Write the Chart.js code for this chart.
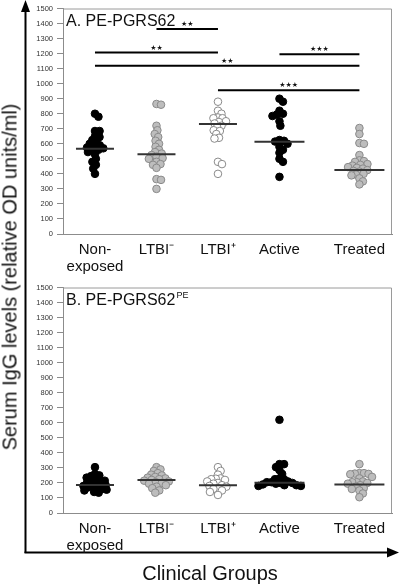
<!DOCTYPE html>
<html>
<head>
<meta charset="utf-8">
<script src="https://cdn.jsdelivr.net/npm/chart.js@4.4.0/dist/chart.umd.min.js"></script>
<style>
    body { margin: 0; background: #fff; font-family: "Liberation Sans", Arial, sans-serif; }
    #lienzo { position: relative; width: 400px; height: 585px; overflow: hidden; }
    .panel { position: absolute; left: 0; }
    #panelA { top: 0; }
    #panelB { top: 279px; }
    #flechas { position: absolute; left: 0; top: 0; }
    #tituloY { position: absolute; left: 10px; top: 277px; transform: translate(-50%, -50%) rotate(-90deg);
               white-space: nowrap; font-size: 20px; color: #111; }
    #tituloX { position: absolute; left: 210px; top: 573px; transform: translate(-50%, -50%);
               white-space: nowrap; font-size: 20px; color: #111; }
</style>
</head>
<body>
<div id="lienzo">
    <svg id="flechas" width="400" height="585">
        <line x1="25.5" y1="10" x2="25.5" y2="553" stroke="#000" stroke-width="2"/>
        <polygon points="25.5,0 21,12 30,12" fill="#000"/>
        <line x1="24.5" y1="552.5" x2="390" y2="552.5" stroke="#000" stroke-width="2"/>
        <polygon points="399,552.5 387,547.5 387,557.5" fill="#000"/>
    </svg>
    <canvas id="panelA" class="panel" width="400" height="280"></canvas>
    <canvas id="panelB" class="panel" width="400" height="280"></canvas>
    <div id="tituloY">Serum IgG levels (relative OD units/ml)</div>
    <div id="tituloX">Clinical Groups</div>
</div>

<script>
// Grupos clínicos y su posición en el eje x
const grupos = ['Non-exposed', 'LTBI-', 'LTBI+', 'Active', 'Treated'];
const etiquetasX = [['Non-', 'exposed'], 'LTBI\u207B', 'LTBI\u207A', 'Active', 'Treated'];
const posGrupo = [1, 2, 3, 4, 5.3];
const marcasY = [0, 100, 200, 300, 400, 500, 600, 700, 800, 900, 1000, 1100, 1200, 1300, 1400, 1500];

// Panel A: PE-PGRS62
const aNoExpuestos = [800, 780, 685, 685, 650, 645, 625, 610, 600, 590, 580, 575, 570, 560, 555, 545, 530, 500, 480, 460, 435, 400];
const aLtbiNeg = [865, 860, 720, 690, 665, 645, 620, 600, 580, 560, 545, 535, 525, 515, 505, 500, 480, 465, 460, 440, 365, 360, 300];
const aLtbiPos = [880, 820, 800, 775, 770, 770, 750, 745, 735, 720, 710, 690, 685, 665, 640, 635, 480, 465, 400];
const aActivos = [900, 880, 820, 800, 795, 785, 750, 720, 625, 620, 615, 600, 580, 560, 540, 500, 480, 380];
const aTratados = [705, 665, 605, 600, 525, 490, 485, 480, 465, 460, 455, 445, 440, 435, 425, 420, 415, 400, 395, 390, 370, 350, 330];
const medianasA = [567, 530, 732, 613, 426];

// Comparaciones significativas del panel A (índices de grupo 0..4)
const barraDesde = [1, 0, 0, 3, 2];
const barraHasta = [2, 2, 4, 4, 4];
const barraNivel = [1363, 1207, 1120, 1196, 957];
const barraTexto = ['\u2605\u2605', '\u2605\u2605', '\u2605\u2605', '\u2605\u2605\u2605', '\u2605\u2605\u2605'];

// Panel B: PE-PGRS62 (dominio PE)
const bNoExpuestos = [305, 260, 250, 245, 235, 225, 220, 215, 205, 200, 195, 190, 185, 180, 175, 170, 165, 160, 155, 150, 140, 135];
const bLtbiNeg = [305, 290, 280, 265, 255, 250, 240, 235, 230, 225, 220, 215, 210, 205, 200, 195, 185, 175, 165, 150, 135];
const bLtbiPos = [305, 280, 255, 230, 228, 225, 220, 210, 200, 195, 185, 180, 175, 165, 160, 150, 140, 120];
const bActivos = [620, 325, 325, 305, 285, 260, 230, 225, 225, 210, 205, 205, 200, 200, 195, 190, 185, 185, 180, 180];
const bTratados = [325, 265, 265, 262, 260, 258, 240, 230, 210, 205, 205, 200, 195, 185, 175, 165, 160, 150, 130, 105];
const medianasB = [187, 220, 185, 202, 189];

// Estilos de los puntos por grupo
const estilos = [
    { relleno: '#000000', borde: '#000000' },
    { relleno: '#bdbdbd', borde: '#8a8a8a' },
    { relleno: '#ffffff', borde: '#8a8a8a' },
    { relleno: '#000000', borde: '#000000' },
    { relleno: '#bdbdbd', borde: '#8a8a8a' }
];
const radioMediana = [19, 19, 19, 25, 25];
const fuente = '"Liberation Sans", Arial, sans-serif';

// Marco, título del panel y barras de significancia
const marcoPanel = {
    id: 'marcoPanel',
    afterDraw(chart, args, opts) {
        const { ctx, chartArea: a } = chart;
        const sx = chart.scales.x;
        const sy = chart.scales.y;
        ctx.save();
        ctx.strokeStyle = '#9a9a9a';
        ctx.lineWidth = 1;
        ctx.beginPath();
        ctx.moveTo(a.left, a.top + 0.5);
        ctx.lineTo(a.right - 0.5, a.top + 0.5);
        ctx.lineTo(a.right - 0.5, a.bottom);
        ctx.stroke();

        ctx.fillStyle = '#111';
        ctx.textAlign = 'left';
        ctx.textBaseline = 'alphabetic';
        ctx.font = '16px ' + fuente;
        ctx.fillText(opts.titulo, a.left + 3, a.top + 17);
        if (opts.sup) {
            const w = ctx.measureText(opts.titulo).width;
            ctx.font = '9px ' + fuente;
            ctx.fillText(opts.sup, a.left + 4 + w, a.top + 10);
        }

        if (opts.barras) {
            ctx.strokeStyle = '#000';
            ctx.lineWidth = 2;
            ctx.textAlign = 'center';
            ctx.font = '7px "DejaVu Sans", sans-serif';
            barraDesde.forEach((desde, i) => {
                const x1 = sx.getPixelForValue(posGrupo[desde]);
                const x2 = sx.getPixelForValue(posGrupo[barraHasta[i]]);
                const y = sy.getPixelForValue(barraNivel[i]);
                ctx.beginPath();
                ctx.moveTo(x1, y);
                ctx.lineTo(x2, y);
                ctx.stroke();
                ctx.fillText(barraTexto[i], (x1 + x2) / 2, y - 3);
            });
        }
        ctx.restore();
    }
};

// Reparte los puntos de cada grupo en forma de enjambre
function acomodarEnjambre(chart) {
    const sx = chart.scales.x;
    const sy = chart.scales.y;
    const d = 4.6;
    chart.data.datasets.forEach((ds) => {
        if (!ds.enjambre) return;
        const cx = sx.getPixelForValue(ds.centro);
        const colocados = [];
        ds.data.forEach((p) => {
            const py = sy.getPixelForValue(p.y);
            const candidatos = [0];
            colocados.forEach((c) => {
                const dy = py - c.py;
                if (Math.abs(dy) < d) {
                    const dx = Math.sqrt(d * d - dy * dy);
                    candidatos.push(c.dx + dx, c.dx - dx);
                }
            });
            candidatos.sort((u, v) => Math.abs(u) - Math.abs(v));
            const elegido = candidatos.find((c) => colocados.every((o) => {
                const ddx = c - o.dx;
                const ddy = py - o.py;
                return ddx * ddx + ddy * ddy >= d * d - 0.01;
            }));
            colocados.push({ py: py, dx: elegido });
            p.x = sx.getValueForPixel(cx + elegido);
        });
    });
    chart.update('none');
}

function crearPanel(idCanvas, series, medianas, opcionesMarco) {
    const ctx = document.getElementById(idCanvas).getContext('2d');

    const datasets = [{
        data: posGrupo.map((x, i) => ({ x: x, y: medianas[i] })),
        pointStyle: 'line',
        pointRadius: radioMediana,
        pointBorderColor: '#333',
        pointBorderWidth: 2,
        order: 0
    }];

    series.forEach((valores, i) => {
        datasets.push({
            data: valores.map((v) => ({ x: posGrupo[i], y: v })),
            centro: posGrupo[i],
            enjambre: true,
            pointRadius: 3.8,
            pointBackgroundColor: estilos[i].relleno,
            pointBorderColor: estilos[i].borde,
            pointBorderWidth: 1,
            order: 1
        });
    });

    const grafico = new Chart(ctx, {
        type: 'scatter',
        data: { datasets: datasets },
        options: {
            responsive: false,
            animation: false,
            events: [],
            layout: { autoPadding: false, padding: { left: 30, right: 8, top: 4, bottom: 0 } },
            plugins: {
                legend: { display: false },
                tooltip: { enabled: false },
                marcoPanel: opcionesMarco
            },
            scales: {
                x: {
                    type: 'linear',
                    min: 0.48,
                    max: 5.83,
                    afterBuildTicks: (s) => { s.ticks = posGrupo.map((v) => ({ value: v })); },
                    afterFit: (s) => { s.height = 46; },
                    grid: { display: false },
                    border: { display: true, color: '#8c8c8c', width: 1 },
                    ticks: {
                        autoSkip: false,
                        maxRotation: 0,
                        padding: 0,
                        color: '#111',
                        font: { family: fuente, size: 15, lineHeight: 1.1 },
                        callback: (v, i) => etiquetasX[i]
                    }
                },
                y: {
                    min: 0,
                    max: 1500,
                    afterBuildTicks: (s) => { s.ticks = marcasY.map((v) => ({ value: v })); },
                    afterFit: (s) => { s.width = 33; },
                    grid: { drawOnChartArea: false, drawTicks: true, tickLength: 6, color: '#8c8c8c' },
                    border: { display: true, color: '#8c8c8c', width: 1 },
                    ticks: {
                        padding: 4,
                        color: '#333',
                        font: { family: fuente, size: 7.5 },
                        callback: (v) => String(v)
                    }
                }
            }
        },
        plugins: [marcoPanel]
    });

    acomodarEnjambre(grafico);
    return grafico;
}

crearPanel('panelA', [aNoExpuestos, aLtbiNeg, aLtbiPos, aActivos, aTratados], medianasA,
    { titulo: 'A. PE-PGRS62', barras: true });
crearPanel('panelB', [bNoExpuestos, bLtbiNeg, bLtbiPos, bActivos, bTratados], medianasB,
    { titulo: 'B. PE-PGRS62', sup: 'PE', barras: false });
</script>
</body>
</html>
